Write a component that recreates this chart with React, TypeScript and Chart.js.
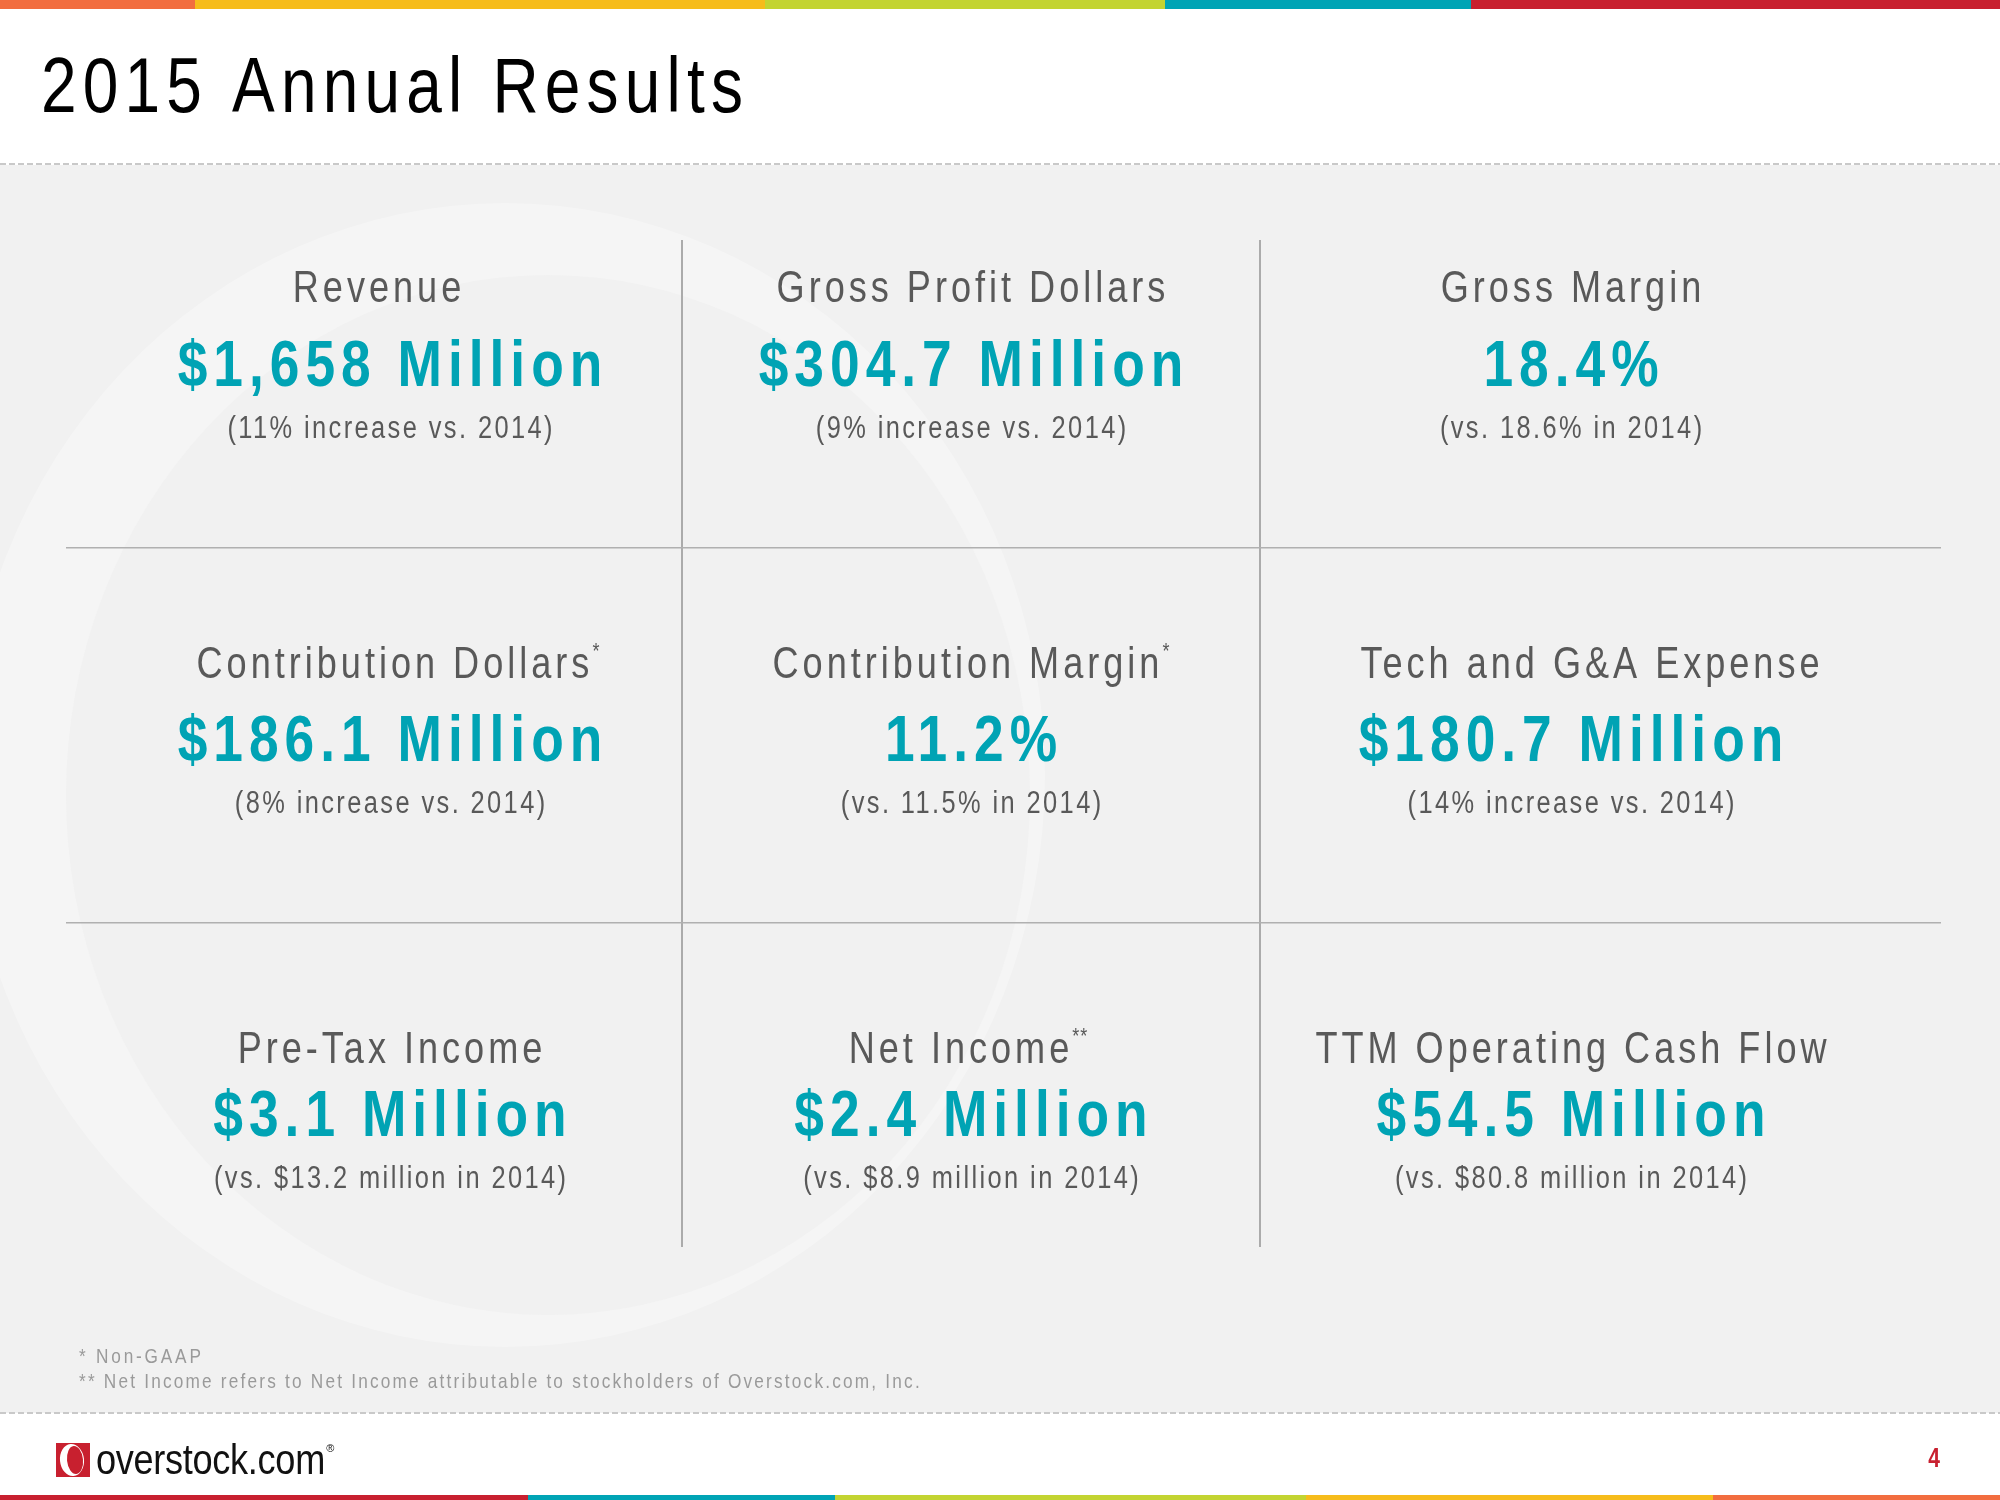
import React, { useEffect, useRef } from "react";
import { Chart, registerables } from "chart.js";

Chart.register(...registerables);

// ---------- data ----------
const slideTitle = "2015 Annual Results";
const metricTitles = [
  "Revenue",
  "Gross Profit Dollars",
  "Gross Margin",
  "Contribution Dollars",
  "Contribution Margin",
  "Tech and G&A Expense",
  "Pre-Tax Income",
  "Net Income",
  "TTM Operating Cash Flow",
];
const metricMarks = ["", "", "", "*", "*", "", "", "**", ""];
const metricValues = [
  "$1,658 Million",
  "$304.7 Million",
  "18.4%",
  "$186.1 Million",
  "11.2%",
  "$180.7 Million",
  "$3.1 Million",
  "$2.4 Million",
  "$54.5 Million",
];
const metricNotes = [
  "(11% increase vs. 2014)",
  "(9% increase vs. 2014)",
  "(vs. 18.6% in 2014)",
  "(8% increase vs. 2014)",
  "(vs. 11.5% in 2014)",
  "(14% increase vs. 2014)",
  "(vs. $13.2 million in 2014)",
  "(vs. $8.9 million in 2014)",
  "(vs. $80.8 million in 2014)",
];
const footnotes = [
  "* Non-GAAP",
  "** Net Income refers to Net Income attributable to stockholders of Overstock.com, Inc.",
];
const logoText = "overstock.com";
const pageNumber = "4";
const gridDividers = [1, 2];
const gridColumns = 3;

// ---------- style / layout ----------
const FONT = '"Liberation Sans", Arial, Helvetica, sans-serif';
const TEAL = "#00a3b4";
const GRAY_TEXT = "#595959";
const RED = "#c8202f";
const TOP_BAR = [
  { from: 0, to: 195, color: "#f26d3f" },
  { from: 195, to: 765, color: "#f6bc1b" },
  { from: 765, to: 1165, color: "#c3d431" },
  { from: 1165, to: 1471, color: "#00a4b5" },
  { from: 1471, to: 2000, color: "#c8202f" },
];
const BOTTOM_BAR = [
  { from: 0, to: 528, color: "#c8202f" },
  { from: 528, to: 835, color: "#00a4b5" },
  { from: 835, to: 1306, color: "#c3d431" },
  { from: 1306, to: 1713, color: "#f6bc1b" },
  { from: 1713, to: 2000, color: "#f26d3f" },
];
const colTextShift = [-3, 0, 22];
const titleNudge = [-13, 0, 0, 8, 0, 19, 0, -3, 0];
const rowTitleOffset = [-58, -57, -47];
const valueOffset = 26;
const noteOffset = 78;

type TStyle = {
  size: number;
  weight?: string;
  color: string;
  sx?: number;
  spacing?: number;
  align?: "left" | "center" | "right";
};

function textWidth(ctx: CanvasRenderingContext2D, text: string, s: TStyle) {
  const sx = s.sx ?? 1;
  const sp = s.spacing ?? 0;
  ctx.save();
  ctx.font = `${s.weight ?? "normal"} ${s.size}px ${FONT}`;
  (ctx as any).letterSpacing = "0px";
  const w = ctx.measureText(text).width * sx + sp * (Array.from(text).length - 1);
  ctx.restore();
  return w;
}

function drawText(ctx: CanvasRenderingContext2D, text: string, x: number, y: number, s: TStyle) {
  const sx = s.sx ?? 1;
  const sp = s.spacing ?? 0;
  const w = textWidth(ctx, text, s);
  const align = s.align ?? "left";
  const left = align === "center" ? x - w / 2 : align === "right" ? x - w : x;
  ctx.save();
  ctx.font = `${s.weight ?? "normal"} ${s.size}px ${FONT}`;
  ctx.fillStyle = s.color;
  ctx.textAlign = "left";
  ctx.textBaseline = "alphabetic";
  (ctx as any).letterSpacing = `${sp / sx}px`;
  ctx.translate(left, y);
  ctx.scale(sx, 1);
  ctx.fillText(text, 0, 0);
  ctx.restore();
  return w;
}

const titleStyle: TStyle = { size: 78, color: "#000", sx: 0.82, spacing: 6.2 };
const cellTitleStyle: TStyle = { size: 44, color: GRAY_TEXT, sx: 0.82, spacing: 4 };
const markStyle: TStyle = { size: 22, color: GRAY_TEXT, sx: 0.82, spacing: 1 };
const valueStyle: TStyle = { size: 65, weight: "bold", color: TEAL, sx: 0.82, spacing: 6 };
const noteStyle: TStyle = { size: 31, color: GRAY_TEXT, sx: 0.82, spacing: 2.4 };
const footStyle: TStyle = { size: 21, color: "#9a9a9a", sx: 0.82, spacing: 2.2 };

const slidePlugin = {
  id: "slideFrame",
  beforeDraw(chart: any) {
    const ctx: CanvasRenderingContext2D = chart.ctx;
    const W = chart.width;
    ctx.save();
    ctx.fillStyle = "#ffffff";
    ctx.fillRect(0, 0, W, chart.height);
    // gray band
    ctx.fillStyle = "#f1f1f1";
    ctx.fillRect(0, 165, W, 1248);
    // watermark ring
    ctx.save();
    ctx.beginPath();
    ctx.rect(0, 165, W, 1248);
    ctx.clip();
    ctx.beginPath();
    ctx.ellipse(505, 775, 540, 572, 0, 0, Math.PI * 2);
    ctx.fillStyle = "rgba(255,255,255,0.3)";
    ctx.fill();
    ctx.beginPath();
    ctx.ellipse(548, 795, 482, 520, 0, 0, Math.PI * 2);
    ctx.fillStyle = "#f1f1f1";
    ctx.fill();
    ctx.restore();
    // dashed separators
    ctx.strokeStyle = "#c9c9c9";
    ctx.lineWidth = 2;
    ctx.setLineDash([6, 3]);
    ctx.beginPath();
    ctx.moveTo(0, 164);
    ctx.lineTo(W, 164);
    ctx.moveTo(0, 1413);
    ctx.lineTo(W, 1413);
    ctx.stroke();
    ctx.setLineDash([]);
    // color bars
    TOP_BAR.forEach((b) => {
      ctx.fillStyle = b.color;
      ctx.fillRect(b.from, 0, b.to - b.from, 9);
    });
    BOTTOM_BAR.forEach((b) => {
      ctx.fillStyle = b.color;
      ctx.fillRect(b.from, 1495, b.to - b.from, 5);
    });
    // slide title
    drawText(ctx, slideTitle, 41, 112, titleStyle);
    // footnotes
    drawText(ctx, footnotes[0], 79, 1363, { ...footStyle, spacing: 2.8 });
    drawText(ctx, footnotes[1], 79, 1388, footStyle);
    // logo
    ctx.fillStyle = RED;
    ctx.fillRect(56, 1443, 34, 34);
    ctx.beginPath();
    ctx.ellipse(72, 1460, 12, 16, -0.1, 0, Math.PI * 2);
    ctx.fillStyle = "#ffffff";
    ctx.fill();
    ctx.beginPath();
    ctx.ellipse(75, 1460, 8, 14, -0.1, 0, Math.PI * 2);
    ctx.fillStyle = RED;
    ctx.fill();
    const lw = drawText(ctx, logoText, 96, 1474, { size: 42, color: "#111", sx: 0.86, spacing: -0.3 });
    drawText(ctx, "®", 96 + lw + 1, 1452, { size: 11, color: "#111" });
    // page number
    drawText(ctx, pageNumber, 1934, 1467, { size: 28, weight: "bold", color: RED, sx: 0.75, align: "center" });
    ctx.restore();
  },
  afterDatasetsDraw(chart: any) {
    const ctx: CanvasRenderingContext2D = chart.ctx;
    const meta = chart.getDatasetMeta(0);
    meta.data.forEach((pt: any, i: number) => {
      const col = i % gridColumns;
      const row = Math.floor(i / gridColumns);
      const cx = pt.x + colTextShift[col];
      const cy = pt.y;
      const mark = metricMarks[i];
      const tw = textWidth(ctx, metricTitles[i], cellTitleStyle);
      const mw = mark ? textWidth(ctx, mark, markStyle) + 3 : 0;
      const left = cx + titleNudge[i] - (tw + mw) / 2;
      const ty = cy + rowTitleOffset[row];
      drawText(ctx, metricTitles[i], left, ty, cellTitleStyle);
      if (mark) drawText(ctx, mark, left + tw + 3, ty - 20, markStyle);
      drawText(ctx, metricValues[i], cx, cy + valueOffset, { ...valueStyle, align: "center" });
      drawText(ctx, metricNotes[i], cx, cy + noteOffset, { ...noteStyle, align: "center" });
    });
  },
};

export default function App() {
  const ref = useRef<HTMLCanvasElement | null>(null);
  useEffect(() => {
    if (!ref.current) return;
    const cells = metricTitles.map((_, i) => ({
      x: (i % gridColumns) + 0.5,
      y: Math.floor(i / gridColumns) + 0.5,
    }));
    const chart = new Chart(ref.current, {
      type: "scatter",
      data: {
        datasets: [
          {
            label: "metrics",
            data: cells,
            pointRadius: 0,
            pointHoverRadius: 0,
          },
        ],
      },
      options: {
        animation: false,
        responsive: false,
        devicePixelRatio: 1,
        events: [],
        layout: { padding: { left: 66, right: 59, top: 240, bottom: 253 } },
        plugins: { legend: { display: false }, tooltip: { enabled: false }, title: { display: false } },
        scales: {
          x: {
            type: "linear",
            bounds: "data",
            min: -0.0657,
            max: 3.1782,
            afterBuildTicks: (s: any) => {
              s.ticks = gridDividers.map((v) => ({ value: v }));
            },
            grid: { color: "#ababab", lineWidth: 2, drawTicks: false },
            border: { display: false },
            ticks: { display: false },
          },
          y: {
            type: "linear",
            bounds: "data",
            reverse: true,
            min: 0.1787,
            max: 2.864,
            afterBuildTicks: (s: any) => {
              s.ticks = gridDividers.map((v) => ({ value: v }));
            },
            grid: { color: "#b0b0b0", lineWidth: 1.5, drawTicks: false },
            border: { display: false },
            ticks: { display: false },
          },
        },
      },
      plugins: [slidePlugin],
    });
    return () => chart.destroy();
  }, []);
  return (
    <canvas
      ref={ref}
      width={2000}
      height={1500}
      style={{ position: "absolute", left: 0, top: 0, width: 2000, height: 1500 }}
    />
  );
}
